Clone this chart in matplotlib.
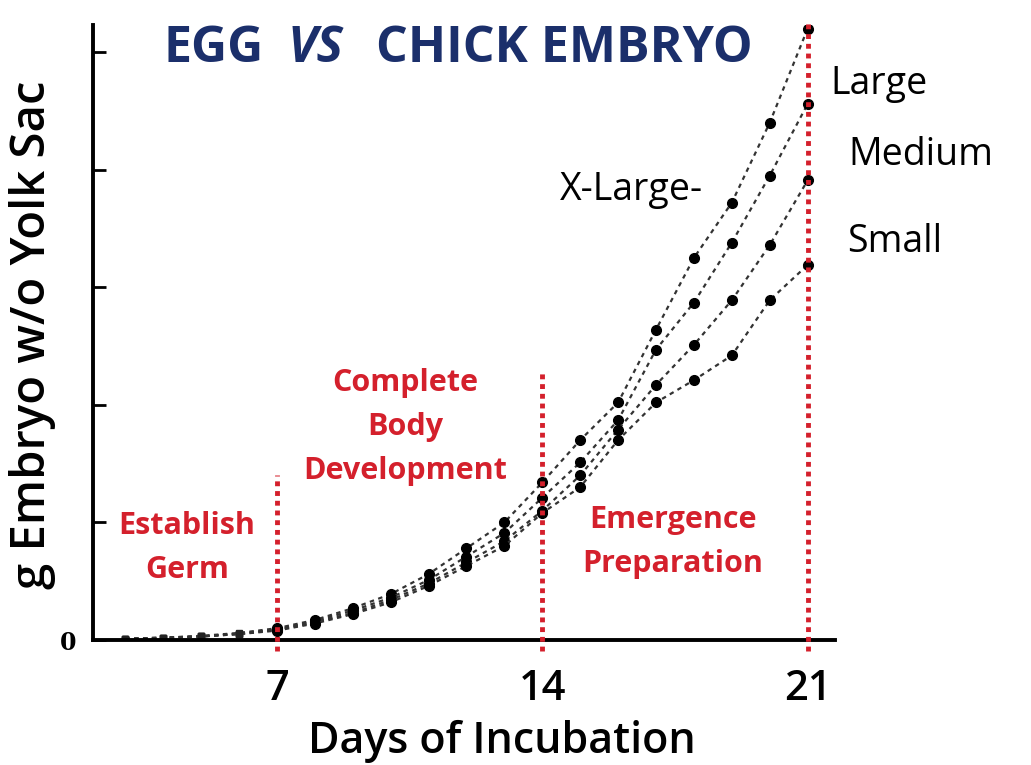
import matplotlib.pyplot as plt

# Embryo weight (g, without yolk sac) by day of incubation
days = [3, 4, 5, 6, 7, 8, 9, 10, 11, 12, 13, 14, 15, 16, 17, 18, 19, 20, 21]
xlarge = [0.1, 0.2, 0.35, 0.6, 1.0, 1.7, 2.7, 3.9, 5.6, 7.8, 10.0, 13.4, 17.0, 20.2, 26.4, 32.5, 37.2, 44.0, 52.0]
large = [0.1, 0.2, 0.3, 0.55, 0.9, 1.6, 2.5, 3.6, 5.1, 7.1, 9.1, 12.1, 15.1, 18.7, 24.7, 28.7, 33.8, 39.5, 45.6]
medium = [0.1, 0.2, 0.3, 0.5, 0.85, 1.5, 2.3, 3.4, 4.8, 6.6, 8.4, 11.0, 14.0, 17.9, 21.7, 25.1, 28.9, 33.6, 39.1]
small = [0.1, 0.15, 0.3, 0.5, 0.8, 1.4, 2.2, 3.2, 4.6, 6.3, 8.0, 10.8, 13.0, 17.0, 20.2, 22.1, 24.2, 28.9, 31.9]
series = [xlarge, large, medium, small]

phase_days = [7, 14, 21]
phase_tops = [14.0, 22.8, 52.7]
xtick_days = [7, 14, 21]
ytick_vals = [0, 10, 20, 30, 40, 50]

red = '#d4202c'
navy = '#1b2f6b'
W, H = 1031, 765

fig = plt.figure(figsize=(W / 100, H / 100), dpi=100)
ax = fig.add_axes([93 / W, 1 - 640 / H, (835 - 93) / W, (640 - 25) / H])

for vals in series:
    ax.plot(days, vals, color='#333333', linestyle=(0, (2, 2)), linewidth=1.6)
    ax.plot(days[4:], vals[4:], 'o', color='black', markersize=7)
    ax.plot(days[:4], vals[:4], 's', color='#222222', markersize=4)

# phase boundaries
for d, top in zip(phase_days, phase_tops):
    ax.plot([d, d], [-0.9, top], color=red, linestyle=(0, (1, 1)),
            linewidth=3.5, clip_on=False, zorder=5)

ax.set_xlim(2.15, 21.72)
ax.set_ylim(0, 52.3)
for s in ['top', 'right']:
    ax.spines[s].set_visible(False)
for s in ['left', 'bottom']:
    ax.spines[s].set_linewidth(2.8)
ax.set_xticks(xtick_days)
ax.set_xticklabels([str(d) for d in xtick_days], fontsize=30,
                   fontfamily='Open Sans', fontweight='semibold')
ax.tick_params(axis='x', length=0, pad=20)
ax.set_yticks(ytick_vals)
ax.set_yticklabels(['0'] + [''] * (len(ytick_vals) - 1), fontsize=17,
                   fontfamily='DejaVu Serif', fontweight='bold')
ax.tick_params(axis='y', direction='in', length=9, width=2, pad=12)

# phase labels
ptxt = dict(color=red, fontsize=22, fontfamily='Open Sans', fontweight='bold',
            ha='center', va='center', linespacing=1.6)
fig.text(187 / W, 1 - 548 / H, 'Establish\nGerm', **ptxt)
fig.text(405 / W, 1 - 427 / H, 'Complete\nBody\nDevelopment', **ptxt)
fig.text(673 / W, 1 - 542 / H, 'Emergence\nPreparation', **ptxt)

# curve labels
ctxt = dict(color='black', fontsize=27, fontfamily='Open Sans', va='center')
fig.text(560 / W, 1 - 190 / H, 'X-Large-', ha='left', **ctxt)
fig.text(830 / W, 1 - 84 / H, 'Large', ha='left', **ctxt)
fig.text(848 / W, 1 - 155 / H, 'Medium', ha='left', **ctxt)
fig.text(847 / W, 1 - 242 / H, 'Small', ha='left', **ctxt)

# title with italic "VS"
tt = dict(color=navy, fontsize=36, fontfamily='Open Sans', fontweight='bold', va='center')
fig.text(164 / W, 1 - 49 / H, 'EGG', ha='left', **tt)
fig.text(288 / W, 1 - 49 / H, 'VS', ha='left', style='italic', **tt)
fig.text(376 / W, 1 - 49 / H, 'CHICK EMBRYO', ha='left', **tt)

fig.text(33 / W, 1 - 335 / H, 'g Embryo w/o Yolk Sac', rotation=90, ha='center',
         va='center', fontsize=34, fontfamily='Open Sans', fontweight='semibold')
fig.text(502 / W, 1 - 741 / H, 'Days of Incubation', ha='center', va='center',
         fontsize=31, fontfamily='Open Sans', fontweight='semibold')

fig.savefig('out.png', dpi=100)
